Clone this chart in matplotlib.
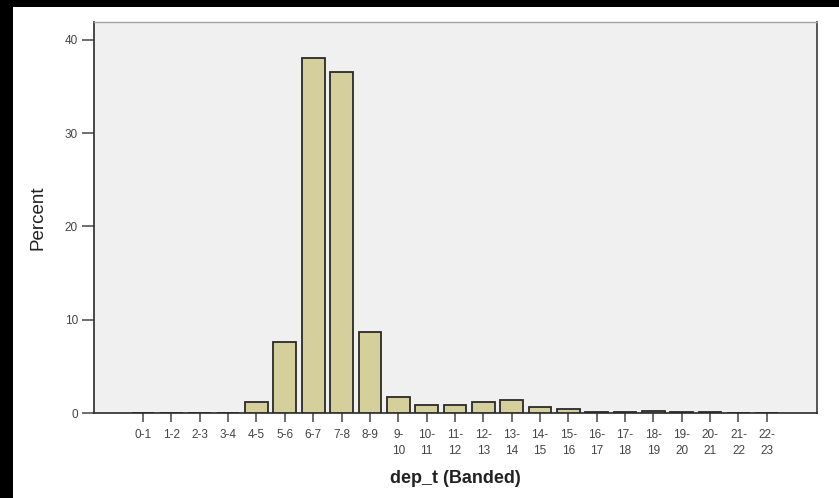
import matplotlib.pyplot as plt
from matplotlib.patches import Rectangle

bands = ["0-1", "1-2", "2-3", "3-4", "4-5", "5-6", "6-7", "7-8", "8-9",
         "9-\n10", "10-\n11", "11-\n12", "12-\n13", "13-\n14", "14-\n15",
         "15-\n16", "16-\n17", "17-\n18", "18-\n19", "19-\n20", "20-\n21",
         "21-\n22", "22-\n23"]
percent = [0.02, 0.02, 0.02, 0.05, 1.2, 7.6, 38.0, 36.5, 8.7,
           1.7, 0.9, 0.9, 1.2, 1.35, 0.6, 0.4,
           0.15, 0.15, 0.25, 0.15, 0.15, 0.05, 0.03]
yticks = [0, 10, 20, 30, 40]

plt.rcParams['font.family'] = ['Liberation Sans', 'DejaVu Sans']

fig = plt.figure(figsize=(8.39, 4.98), dpi=100, facecolor="black")
# white panel inside the black border
fig.add_artist(Rectangle((13 / 839, 0), 1, 1 - 7 / 498, transform=fig.transFigure,
                         facecolor="white", edgecolor="none", zorder=-10))

ax = fig.add_axes([94 / 839, 1 - 413 / 498, (817 - 94) / 839, (413 - 22) / 498])
ax.set_facecolor("#f0f0f0")

x = list(range(len(bands)))
ax.bar(x, percent, width=0.8, color="#d5d09b", edgecolor="#2a2a2a", linewidth=1.3, zorder=3)

ax.set_xlim(-1.73, 23.77)
ax.set_ylim(0, 41.9)
ax.set_xticks(x)
ax.set_xticklabels(bands, fontsize=8.5, color="#444444", linespacing=1.4)
ax.set_yticks(yticks)
ax.set_yticklabels([str(v) for v in yticks], fontsize=8.5, color="#444444")
ax.tick_params(axis="y", length=8.6, width=1.2, color="#555555", pad=3)
ax.tick_params(axis="x", length=6.5, width=1.2, color="#555555", pad=5)

for side in ["left", "bottom"]:
    ax.spines[side].set_color("#2a2a2a")
    ax.spines[side].set_linewidth(1.2)
ax.spines["right"].set_color("#555555")
ax.spines["right"].set_linewidth(1.4)
ax.spines["top"].set_color("#a0a0a0")
ax.spines["top"].set_linewidth(1.0)

ax.set_ylabel("Percent", fontsize=13.5, color="#222222", labelpad=13)
ax.set_xlabel("dep_t (Banded)", fontsize=13, fontweight="bold", color="#222222", labelpad=10)

fig.savefig("out.png", dpi=100, facecolor=fig.get_facecolor())
